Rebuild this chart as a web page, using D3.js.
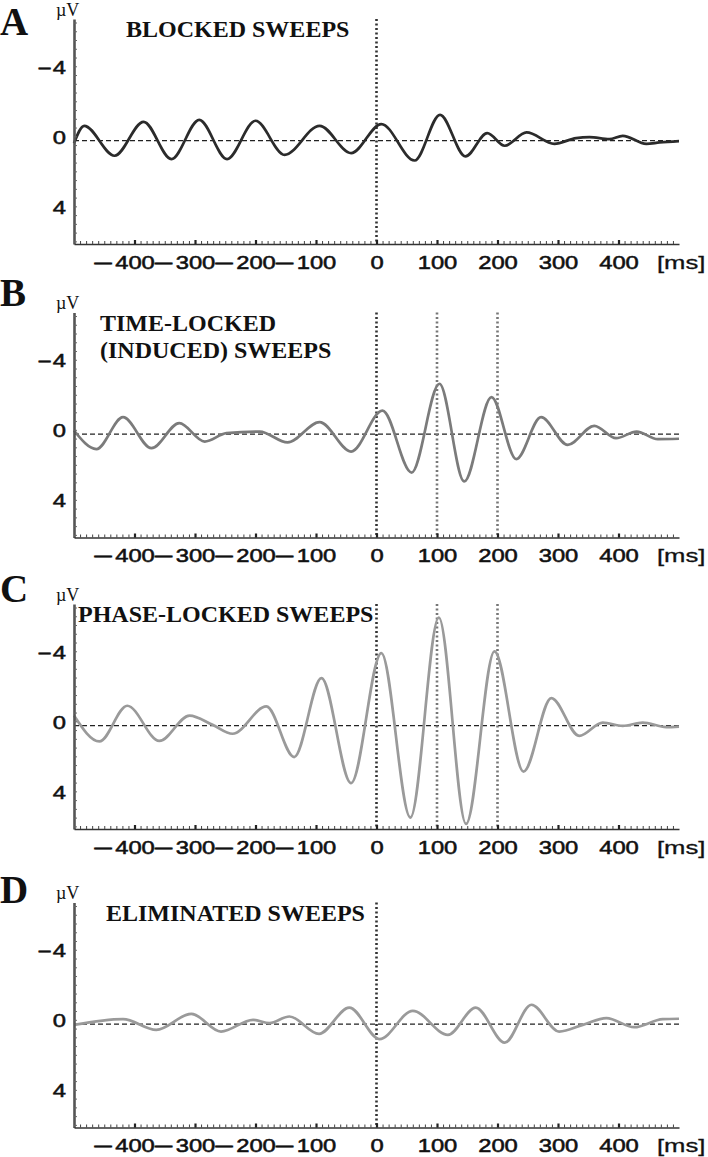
<!DOCTYPE html>
<html>
<head>
<meta charset="utf-8">
<script src="https://cdn.jsdelivr.net/npm/d3@7"></script>
<style>
  body { margin: 0; background: #fff; }
  .serif { font-family: "Liberation Serif", "Times New Roman", serif; }
  .sans { font-family: "Liberation Sans", Arial, sans-serif; stroke: #111; stroke-width: 0.55px; }
</style>
</head>
<body>
<div id="fig"></div>
<script>
// ticks
var msTicks = [-400, -300, -200, -100, 0, 100, 200, 300, 400];
var uvTicks = [-4, 0, 4];
var zeroLine = 0.25; // dashed baseline sits a bit under the 0 label

// A: blocked sweeps (ms, uV) - peaks and troughs
var blockedMs = [-500, -483, -433, -385, -339, -293, -247, -200, -152, -94, -42, 8, 63, 105, 147, 183, 212, 248, 294, 330, 352, 385, 407, 446, 468, 500];
var blockedUv = [0.39, -0.6, 1.11, -0.83, 1.3, -0.94, 1.3, -0.89, 1.06, -0.6, 0.96, -0.7, 1.38, -1.23, 1.15, -0.18, 0.54, -0.22, 0.43, 0.1, 0.05, 0.16, -0.03, 0.43, 0.35, 0.27];

// B: time-locked (induced) sweeps
var inducedMs = [-500, -463, -419, -372, -326, -284, -248, -193, -147, -94, -42, 10, 58, 104, 145, 190, 231, 272, 316, 360, 396, 430, 465, 500];
var inducedUv = [0.04, 1.1, -0.72, 1.05, -0.38, 0.67, 0.19, 0.1, 0.72, -0.44, 1.24, -1.1, 2.44, -2.63, 2.95, -1.87, 1.67, -0.72, 0.86, -0.23, 0.48, 0.1, 0.53, 0.51];

// C: phase-locked sweeps
var phaseMs = [-500, -458, -412, -359, -309, -271, -238, -182, -136, -91, -42, 8, 56, 103, 148, 195, 243, 289, 335, 374, 407, 440, 479, 500];
var phaseUv = [-0.33, 1.15, -0.89, 1.12, -0.33, 0.2, 0.71, -0.85, 2.04, -2.47, 3.53, -3.9, 5.5, -5.93, 5.86, -4.0, 2.87, -1.33, 0.83, 0.07, 0.26, 0.07, 0.33, 0.3];

// D: eliminated sweeps
var elimMs = [-500, -419, -364, -306, -257, -204, -177, -144, -95, -45, 5, 60, 118, 164, 212, 256, 302, 341, 380, 426, 473, 500];
var elimUv = [0.29, -0.04, 0.57, -0.34, 0.67, 0, 0.19, -0.19, 0.8, -0.7, 1.1, -0.51, 0.86, -0.7, 1.3, -0.86, 0.67, 0.29, -0.1, 0.42, -0.04, -0.06];

var letters = ["A", "B", "C", "D"];
var titles = [["BLOCKED SWEEPS"], ["TIME-LOCKED", "(INDUCED) SWEEPS"], ["PHASE-LOCKED SWEEPS"], ["ELIMINATED SWEEPS"]];
var markers = [[0], [0, 100, 200], [0, 100, 200], [0]];

// layout
var panelTop = [0, 293.5, 585, 883.5];
var titleX = [126, 100, 78, 106];
var letterBase = [35, 306, 602, 903];
var traceColor = ["#2b2b2b", "#7b7b7b", "#9a9a9a", "#9a9a9a"];

var svg = d3.select("#fig").append("svg")
    .attr("width", 708)
    .attr("height", 1157);

var x = d3.scaleLinear().domain([-500, 500]).range([74, 679]);
var y = d3.scaleLinear().domain([-6.7, 6.15]).range([19, 244]);

var line = d3.line()
    .x(function(d) { return x(d[0]); })
    .y(function(d) { return y(d[1]); })
    .curve(d3.curveMonotoneX);

var sx = 1.25; // labels in the figure are stretched sideways

// a wide minus drawn from a stretched hyphen, right end at xEnd
function minus(sel, xEnd, yPos, dy, stretch) {
  sel.append("text")
      .attr("class", "sans")
      .attr("font-size", 19).attr("fill", "#111")
      .attr("text-anchor", "end")
      .attr("x", xEnd / stretch)
      .attr("y", yPos)
      .attr("dy", dy)
      .attr("transform", "scale(" + stretch + ",1)")
      .text("-");
}

function panel(i, ms, uv) {
  var g = svg.append("g").attr("transform", "translate(0," + panelTop[i] + ")");

  // zero line
  g.append("line")
      .attr("x1", x(-500)).attr("x2", x(500))
      .attr("y1", y(zeroLine)).attr("y2", y(zeroLine))
      .attr("stroke", "#222").attr("stroke-width", 1.3)
      .attr("stroke-dasharray", "5,3");

  // dotted event markers
  g.selectAll(".marker").data(markers[i]).enter().append("line")
      .attr("class", "marker")
      .attr("x1", function(d) { return x(d); })
      .attr("x2", function(d) { return x(d); })
      .attr("y1", y.range()[0]).attr("y2", y.range()[1])
      .attr("stroke", function(d) { return d == 0 ? "#333" : "#777"; })
      .attr("stroke-width", 2.6)
      .attr("stroke-dasharray", "2,2.5");

  var pts = ms.map(function(t, k) { return [t, uv[k]]; });
  g.append("path")
      .datum(pts)
      .attr("d", line)
      .attr("fill", "none")
      .attr("stroke", traceColor[i])
      .attr("stroke-width", 2.7)
      .attr("stroke-linejoin", "round");

  // y axis: minor ticks + line
  var yMinor = g.append("g").attr("transform", "translate(" + x(-500) + ",0)")
      .call(d3.axisRight(y).tickValues(d3.range(-6.5, 6.01, 0.5)).tickSize(3).tickSizeOuter(0).tickFormat(""));
  yMinor.select(".domain").attr("stroke", "#555").attr("stroke-width", 2.6);
  yMinor.selectAll(".tick line").attr("stroke", "#666").attr("stroke-width", 1);

  // y labels
  var yLab = g.append("g").attr("transform", "translate(" + x(-500) + ",0)")
      .call(d3.axisLeft(y).tickValues(uvTicks).tickSize(0).tickFormat(function(d) { return Math.abs(d); }));
  yLab.select(".domain").remove();
  yLab.selectAll(".tick text")
      .attr("class", "sans")
      .attr("font-size", 19)
      .attr("fill", "#111")
      .attr("x", -8 / sx)
      .attr("dy", "0.36em")
      .attr("transform", "scale(" + sx + ",1)");
  yLab.selectAll(".tick").each(function(d) {
    if (d >= 0) return;
    var w = d3.select(this).select("text").node().getComputedTextLength() * sx;
    minus(d3.select(this), -8 - w - 0.5, 0, "0.36em", 2.4);
  });

  // x axis: minor ticks every 10 ms
  var xMinor = g.append("g").attr("transform", "translate(0," + y.range()[1] + ")")
      .call(d3.axisBottom(x).tickValues(d3.range(-490, 491, 10)).tickSize(-3).tickSizeOuter(0).tickFormat(""));
  xMinor.select(".domain").attr("stroke", "#333").attr("stroke-width", 1.3);
  xMinor.selectAll(".tick line").attr("stroke", "#444");

  var xLab = g.append("g").attr("transform", "translate(0," + y.range()[1] + ")")
      .call(d3.axisBottom(x).tickValues(msTicks).tickSize(-4).tickFormat(function(d) { return Math.abs(d); }));
  xLab.select(".domain").remove();
  xLab.selectAll(".tick line").attr("stroke", "#222").attr("stroke-width", 2.2);
  xLab.selectAll(".tick text")
      .attr("class", "sans")
      .attr("font-size", 19)
      .attr("fill", "#111")
      .attr("y", 25)
      .attr("dy", null)
      .attr("transform", "scale(" + sx + ",1)");
  xLab.selectAll(".tick").each(function(d) {
    if (d >= 0) return;
    var w = d3.select(this).select("text").node().getComputedTextLength() * sx;
    minus(d3.select(this), -(w / 2 + 1), 25, null, 3.5);
  });

  g.append("text")
      .attr("class", "sans")
      .attr("font-size", 19).attr("fill", "#111")
      .attr("x", 657 / 1.35).attr("y", y.range()[1] + 25)
      .attr("transform", "scale(1.35,1)")
      .style("stroke-width", "0.3px")
      .text("[ms]");

  // unit
  g.append("text")
      .attr("class", "serif")
      .attr("font-size", 18).attr("fill", "#111")
      .attr("x", 56).attr("y", y(-6.9))
      .text("\u00b5V");

  // title
  var tt = g.append("text")
      .attr("class", "serif")
      .attr("font-size", 24).attr("font-weight", "bold").attr("fill", "#111")
      .attr("x", titleX[i]).attr("y", 37);
  titles[i].forEach(function(s, k) {
    tt.append("tspan").attr("x", titleX[i]).attr("dy", k == 0 ? 0 : 27).text(s);
  });

  // panel letter
  svg.append("text")
      .attr("class", "serif")
      .attr("font-size", 39).attr("font-weight", "bold").attr("fill", "#111")
      .attr("x", 0).attr("y", letterBase[i])
      .text(letters[i]);
}

panel(0, blockedMs, blockedUv);
panel(1, inducedMs, inducedUv);
panel(2, phaseMs, phaseUv);
panel(3, elimMs, elimUv);
</script>
</body>
</html>
